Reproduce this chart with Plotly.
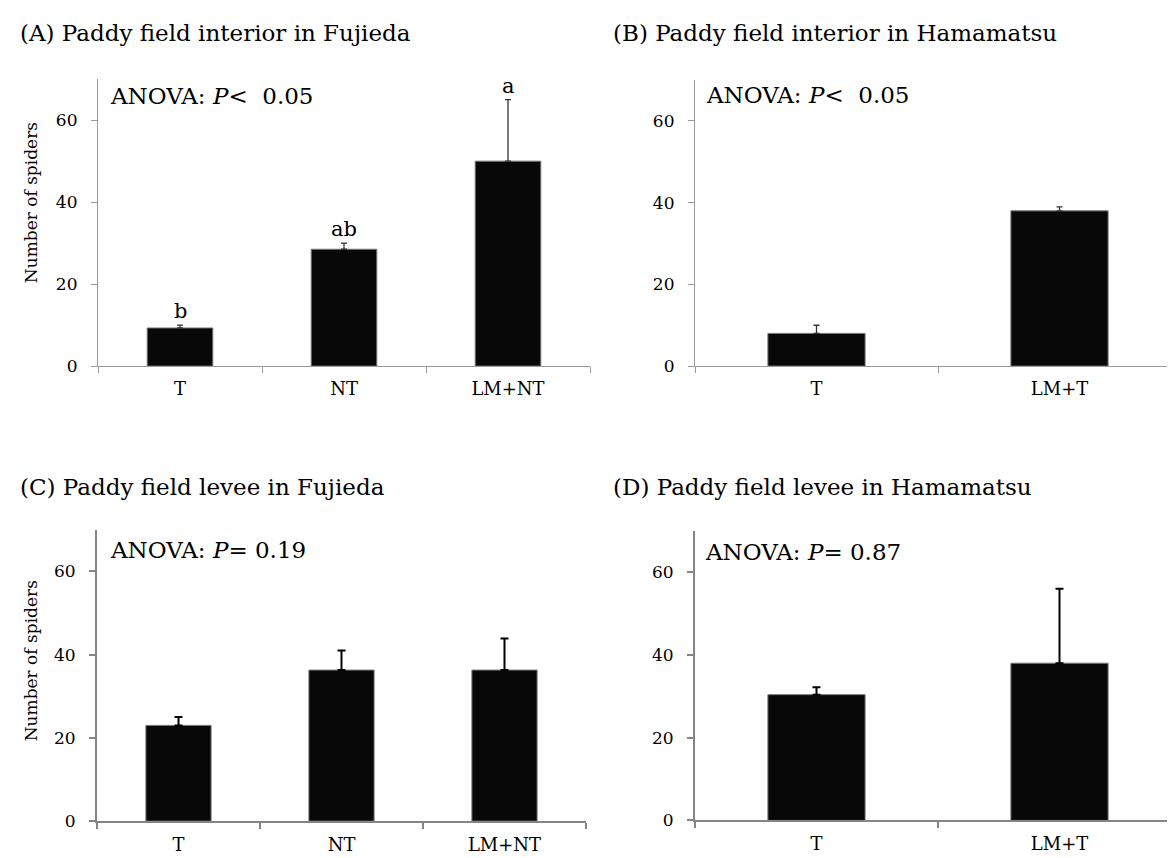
import plotly.graph_objects as go

W, H = 1175, 858

# ---------------- data ----------------
cats_A = ["T", "NT", "LM+NT"]
mean_A = [9.3, 28.5, 50.0]
err_A = [0.7, 1.5, 15.0]
letters_A = ["b", "ab", "a"]

cats_B = ["T", "LM+T"]
mean_B = [8.0, 38.0]
err_B = [2.0, 1.0]

cats_C = ["T", "NT", "LM+NT"]
mean_C = [23.0, 36.3, 36.3]
err_C = [2.0, 4.7, 7.6]

cats_D = ["T", "LM+T"]
mean_D = [30.4, 38.0]
err_D = [1.8, 18.0]

titles = ["(A) Paddy field interior in Fujieda",
          "(B) Paddy field interior in Hamamatsu",
          "(C) Paddy field levee in Fujieda",
          "(D) Paddy field levee in Hamamatsu"]
anova = ["ANOVA: <i>P</i><\u00a0\u00a00.05",
         "ANOVA: <i>P</i><\u00a0\u00a00.05",
         "ANOVA: <i>P</i>= 0.19",
         "ANOVA: <i>P</i>= 0.87"]
ytitle = "Number of spiders"
yticks = [0, 20, 40, 60]

FONT = "DejaVu Serif"

def px_x(p):
    return p / W

def px_y(p):
    return 1 - p / H

# panel pixel boxes: (x0, x1, ytop, ybottom)
boxes = [(90, 582, 72, 362.3),
         (687, 1173, 73, 362.3),
         (89, 578, 528, 822.7),
         (687, 1173, 529, 822)]
# per-panel styling (top row thinner/lighter lines, bottom row heavier)
axis_col = ["#9a9a9a", "#9a9a9a", "#858585", "#858585"]
axis_w = [1.2, 1.2, 2.0, 2.0]
err_col = ["#333333", "#333333", "#000000", "#000000"]
err_w = [1.3, 1.3, 2.0, 2.0]
err_cap = [3, 3, 4, 4]

fig = go.Figure()
panels = [(cats_A, mean_A, err_A), (cats_B, mean_B, err_B),
          (cats_C, mean_C, err_C), (cats_D, mean_D, err_D)]

for i, (cats, means, errs) in enumerate(panels):
    n = i + 1
    xa = "x" if n == 1 else f"x{n}"
    ya = "y" if n == 1 else f"y{n}"
    fig.add_trace(go.Bar(
        x=cats, y=means, xaxis=xa, yaxis=ya,
        marker=dict(color="#080808", line=dict(color="#777777", width=1)),
        error_y=dict(type="data", symmetric=False, array=errs,
                     arrayminus=[0] * len(errs), color=err_col[i],
                     thickness=err_w[i], width=err_cap[i]),
        showlegend=False, hoverinfo="skip"))
    x0, x1, yt, yb = boxes[i]
    common_x = dict(domain=[px_x(x0), px_x(x1)], anchor=ya,
                    showline=True, linecolor=axis_col[i], linewidth=axis_w[i],
                    ticks="outside", tickson="boundaries", ticklen=6,
                    tickcolor=axis_col[i], tickwidth=axis_w[i], showgrid=False,
                    zeroline=False, ticklabelstandoff=6,
                    tickfont=dict(family=FONT, size=18, color="black"),
                    range=[-0.5, len(cats) - 0.5], fixedrange=True)
    common_y = dict(domain=[px_y(yb), px_y(yt)], anchor=xa,
                    range=[0, 70], tickvals=yticks,
                    showline=True, linecolor=axis_col[i], linewidth=axis_w[i],
                    ticks="outside", ticklen=6, tickcolor=axis_col[i],
                    tickwidth=axis_w[i],
                    showgrid=False, zeroline=False, ticklabelstandoff=10,
                    tickfont=dict(family=FONT, size=17, color="black"),
                    fixedrange=True)
    fig.update_layout(**{("xaxis" if n == 1 else f"xaxis{n}"): common_x,
                         ("yaxis" if n == 1 else f"yaxis{n}"): common_y})

annotations = []
# panel titles
title_pos = [(10, 25), (603, 25), (10, 485), (603, 485)]
for t, (px, py) in zip(titles, title_pos):
    annotations.append(dict(text=t, xref="paper", yref="paper",
                            x=px_x(px), y=px_y(py), xanchor="left",
                            yanchor="middle", showarrow=False,
                            font=dict(family=FONT, size=23, color="black")))
# ANOVA labels
anova_pos = [(100, 89.5), (696, 88), (100, 548), (695, 550)]
for t, (px, py) in zip(anova, anova_pos):
    annotations.append(dict(text=t, xref="paper", yref="paper",
                            x=px_x(px), y=px_y(py), xanchor="left",
                            yanchor="middle", showarrow=False,
                            font=dict(family=FONT, size=23, color="black")))
# y-axis titles
for py in (197.5, 661):
    annotations.append(dict(text=ytitle, xref="paper", yref="paper",
                            x=px_x(23), y=px_y(py), xanchor="center",
                            yanchor="middle", textangle=-90, showarrow=False,
                            font=dict(family=FONT, size=17, color="black")))
# significance letters
for c, m, e, l in zip(cats_A, mean_A, err_A, letters_A):
    annotations.append(dict(text=l, xref="x", yref="y", x=c, y=m + e,
                            xanchor="center", yanchor="bottom",
                            showarrow=False,
                            font=dict(family=FONT, size=21, color="black")))

fig.update_layout(width=W, height=H, margin=dict(l=0, r=0, t=0, b=0),
                  paper_bgcolor="white", plot_bgcolor="white",
                  bargap=0.6, annotations=annotations,
                  font=dict(family=FONT, color="black"))

fig.write_html("out.html", config={"displayModeBar": False})
